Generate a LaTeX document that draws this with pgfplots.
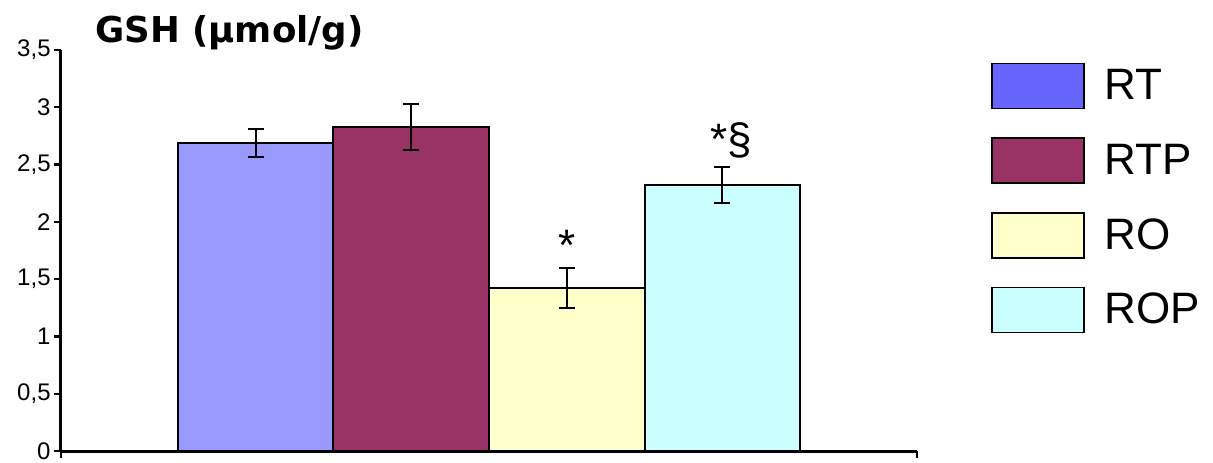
\documentclass[border=0pt]{standalone}
\usepackage{pgfplots}
\pgfplotsset{compat=1.18}
\usepackage{fontspec}
\setmainfont{Liberation Sans}
\newfontfamily\titlefont{DejaVu Sans}
\definecolor{rtbar}{HTML}{9999FF}
\definecolor{rtleg}{HTML}{6666FF}
\definecolor{rtp}{HTML}{993366}
\definecolor{ro}{HTML}{FFFFCC}
\definecolor{rop}{HTML}{CCFFFF}
\begin{document}
\begin{tikzpicture}
\path[use as bounding box] (-30.5pt,-5.5pt) rectangle (576pt,225.5pt);
\begin{axis}[
  at={(0pt,0pt)}, anchor=south west,
  width=428pt, height=200.5pt, scale only axis,
  xmin=-0.25, xmax=5.25, ymin=0, ymax=3.5,
  axis lines*=left,
  axis line style={-, line width=1.5pt, black},
  ytick={0,0.5,1,1.5,2,2.5,3,3.5},
  xtick={-0.25,5.25}, xticklabels={},
  tick align=outside, major tick length=3.5pt,
  tick style={black, line width=1.2pt},
  /pgf/number format/use comma,
  /pgf/number format/assume math mode=true,
  yticklabel style={font=\fontsize{12}{12}\selectfont, inner sep=1.5pt},
  clip=false,
  legend image code/.code={\draw[#1, line width=0.8pt] (0pt,-11.25pt) rectangle (46pt,11.25pt);},
  legend style={at={(1.0864,0.9683)}, anchor=north west, draw=none, fill=none,
    inner sep=0pt, outer sep=0pt, row sep=14pt, column sep=10pt,
    font=\fontsize{22}{24}\selectfont, nodes={inner sep=0pt}},
  legend cell align=left,
  error bars/error bar style={line width=1pt, black},
  error bars/error mark options={rotate=90, mark size=4pt, line width=1pt, black},
]
\addplot[ybar, bar width=1, bar shift=0pt, fill=rtbar, draw=black, line width=0.9pt, forget plot,
  error bars/.cd, y dir=both, y explicit] coordinates {(1,2.69) +- (0,0.12)};
\addplot[ybar, bar width=1, bar shift=0pt, fill=rtp, draw=black, line width=0.9pt, forget plot,
  error bars/.cd, y dir=both, y explicit] coordinates {(2,2.83) +- (0,0.20)};
\addplot[ybar, bar width=1, bar shift=0pt, fill=ro, draw=black, line width=0.9pt, forget plot,
  error bars/.cd, y dir=both, y explicit] coordinates {(3,1.42) +- (0,0.175)};
\addplot[ybar, bar width=1, bar shift=0pt, fill=rop, draw=black, line width=0.9pt, forget plot,
  error bars/.cd, y dir=both, y explicit] coordinates {(4,2.32) +- (0,0.155)};
\addlegendimage{fill=rtleg, draw=black}
\addlegendentry{RT}
\addlegendimage{fill=rtp, draw=black}
\addlegendentry{RTP}
\addlegendimage{fill=ro, draw=black}
\addlegendentry{RO}
\addlegendimage{fill=rop, draw=black}
\addlegendentry{ROP}
\node[anchor=base, inner sep=0pt, font=\fontsize{22}{24}\selectfont] at (axis cs:3,1.667) {*};
\node[anchor=base, inner sep=0pt, font=\fontsize{22}{24}\selectfont] at (axis cs:4.056,2.59) {*§};
\end{axis}
\node[anchor=base west, inner sep=0pt, font=\titlefont\bfseries\fontsize{17.8}{20}\selectfont] at (17pt,204.5pt) {GSH (µmol/g)};
\end{tikzpicture}
\end{document}
